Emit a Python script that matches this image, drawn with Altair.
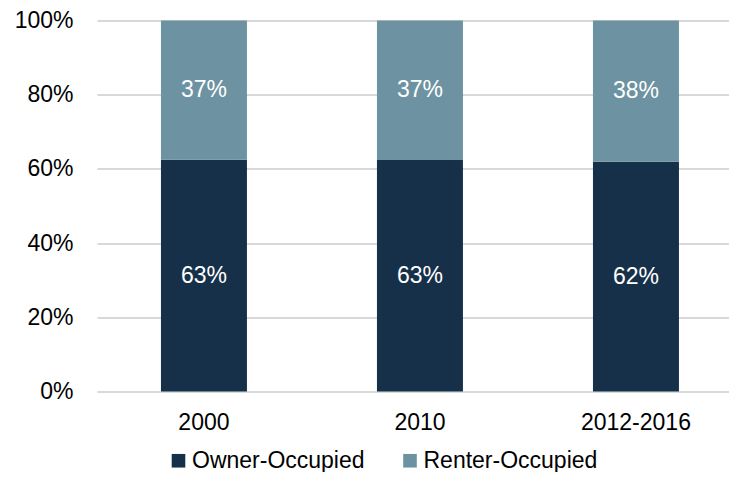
import altair as alt
import pandas as pd

periods = ["2000", "2010", "2012-2016"]
tenures = ["Owner-Occupied", "Renter-Occupied"]
owner_share = [0.625, 0.624, 0.619]
renter_share = [0.375, 0.376, 0.381]
owner_labels = ["63%", "63%", "62%"]
renter_labels = ["37%", "37%", "38%"]
colors = ["#17304a", "#6d92a2"]

rows = []
for i, p in enumerate(periods):
    rows.append({"period": p, "tenure": tenures[0], "share": owner_share[i], "label": owner_labels[i], "ord": 0})
    rows.append({"period": p, "tenure": tenures[1], "share": renter_share[i], "label": renter_labels[i], "ord": 1})
df = pd.DataFrame(rows)

FONT = "Liberation Sans"
FS = 23

x_enc = alt.X(
    "period:N",
    sort=periods,
    scale=alt.Scale(paddingInner=0.6019, paddingOuter=0.2639, align=0.561, round=False),
    axis=alt.Axis(title=None, labelAngle=0, ticks=False, domain=False, labelPadding=20,
                  labelFontSize=FS, labelColor="#000000", labelFont=FONT),
)

bars = alt.Chart(df).mark_bar().encode(
    x=x_enc,
    y=alt.Y(
        "share:Q",
        stack="zero",
        scale=alt.Scale(domain=[0, 1], nice=False),
        axis=alt.Axis(title=None, format=".0%", values=[0, 0.2, 0.4, 0.6, 0.8, 1.0],
                      ticks=False, domain=False, labelPadding=24, labelFontSize=FS,
                      labelColor="#000000", labelFont=FONT, grid=True,
                      gridColor="#d9d9d9", gridWidth=2),
    ),
    color=alt.Color(
        "tenure:N",
        scale=alt.Scale(domain=tenures, range=colors),
        legend=alt.Legend(title=None, orient="none", legendX=70, legendY=428.5,
                          direction="horizontal", symbolType="square", symbolSize=185,
                          symbolStrokeWidth=0, labelFontSize=FS, labelFont=FONT,
                          labelColor="#000000", columnPadding=33.5, labelOffset=2,
                          labelLimit=0, padding=0),
    ),
    order=alt.Order("ord:Q"),
)

text = alt.Chart(df).transform_stack(
    stack="share", groupby=["period"], as_=["s0", "s1"], sort=[alt.SortField("ord")]
).transform_calculate(
    mid="(datum.s0 + datum.s1) / 2"
).mark_text(font=FONT, fontSize=FS, color="#ffffff", baseline="middle", align="center").encode(
    x=alt.X("period:N", sort=periods),
    y=alt.Y("mid:Q"),
    text="label:N",
)

chart = alt.layer(bars, text).properties(
    width=632, height=371,
    autosize=alt.AutoSizeParams(type="none"),
    padding={"left": 89, "top": 12.5, "right": 0, "bottom": 80.5},
).configure_view(stroke=None)

chart.save("out.html", embed_options={"renderer": "svg", "actions": False})
